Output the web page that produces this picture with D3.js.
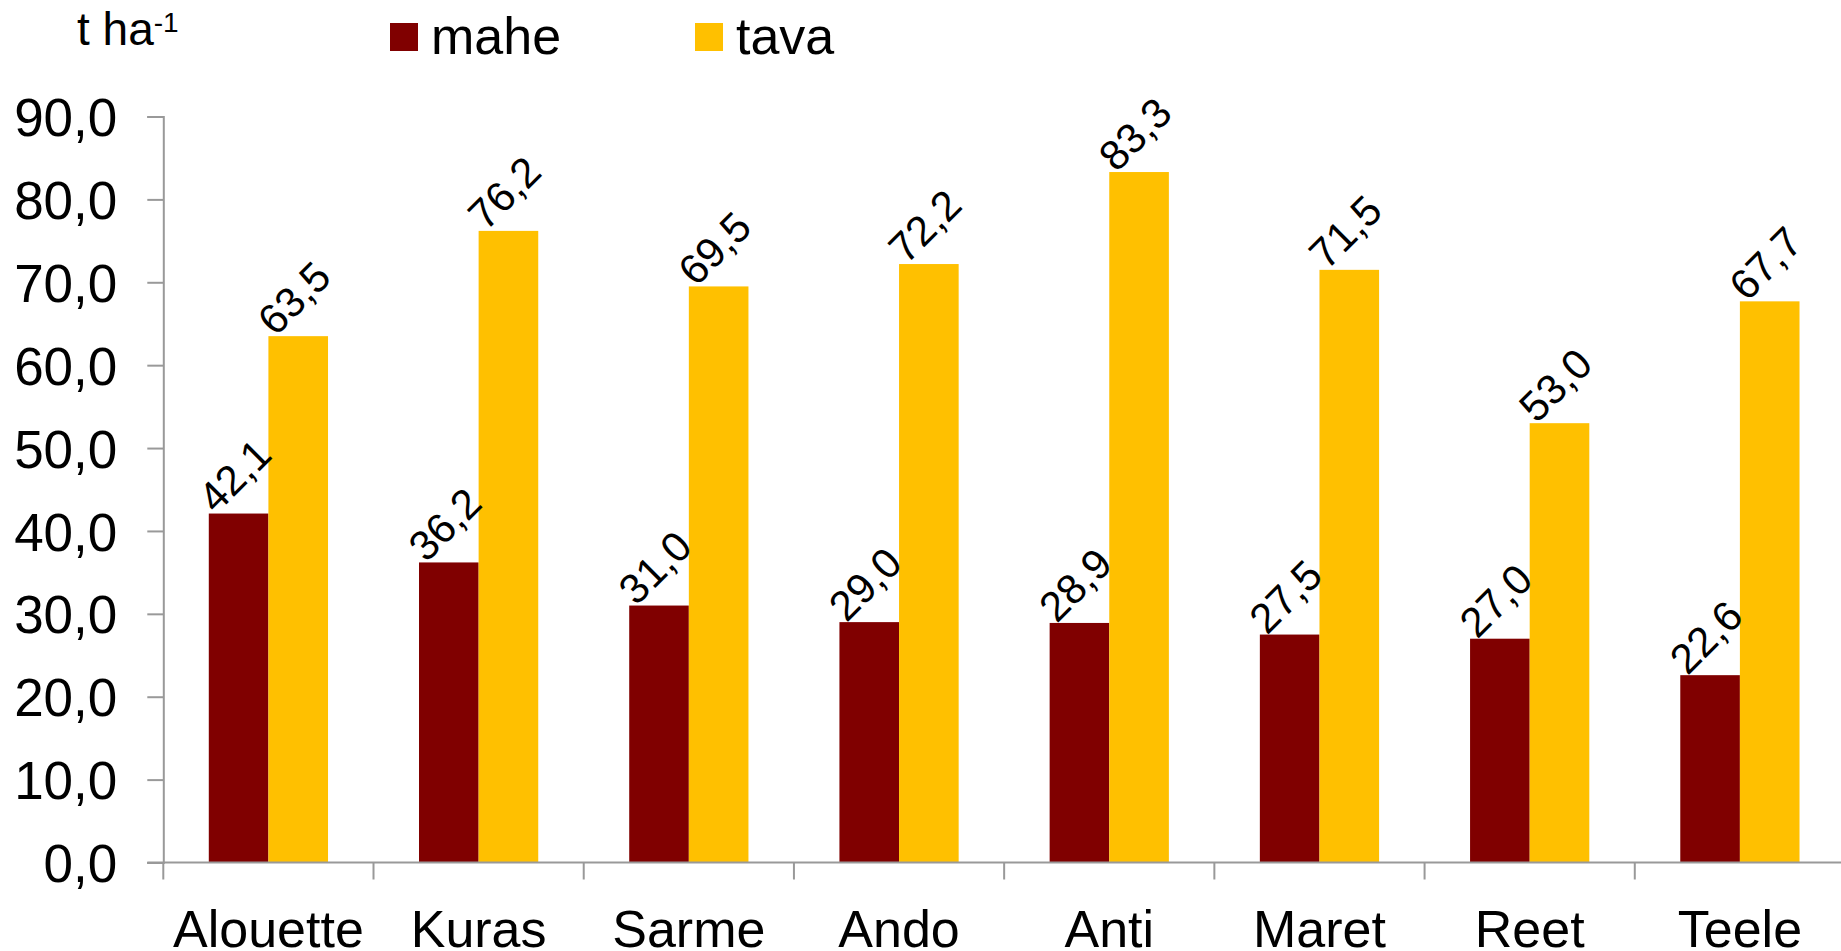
<!DOCTYPE html>
<html>
<head>
<meta charset="utf-8">
<script src="https://cdn.jsdelivr.net/npm/d3@7"></script>
<style>
  body { margin: 0; background: #fff; }
  text { font-family: "Liberation Sans", Arial, sans-serif; fill: #000; }
</style>
</head>
<body>
<script>
var categories = ['Alouette','Kuras','Sarme','Ando','Anti','Maret','Reet','Teele'];
var seriesNames = ['mahe','tava'];
var maheValues = [42.1, 36.2, 31.0, 29.0, 28.9, 27.5, 27.0, 22.6];
var tavaValues = [63.5, 76.2, 69.5, 72.2, 83.3, 71.5, 53.0, 67.7];
var yTicks = [0,10,20,30,40,50,60,70,80,90];
var colors = {mahe: '#800000', tava: '#FFC000'};

var width = 1841;
var height = 951;
// note: "top" is taken by window.top, so plot edges get their own names
var plotLeft = 163.3, plotRight = 1845, plotTop = 116.5, plotBottom = 862.5;

var rows = categories.map(function(c,i){
    return {cat: c, mahe: maheValues[i], tava: tavaValues[i]};
});

var svg = d3.select('body')
            .append('svg')
            .attr('width', width)
            .attr('height', height)

var x0 = d3.scaleBand()
           .domain(categories)
           .range([plotLeft, plotRight])
           .paddingInner(0)
           .paddingOuter(0);

var x1 = d3.scaleBand()
           .domain(seriesNames)
           .range([0, x0.bandwidth()])
           .paddingInner(0)
           .paddingOuter(0.763);

var y = d3.scaleLinear()
          .domain([0, 90])
          .range([plotBottom, plotTop]);

var fmt = function(d){ return d.toFixed(1).replace('.', ','); };

// y axis
var yAxis = svg.append('g')
               .attr('transform','translate('+plotLeft+',0)')
               .call(d3.axisLeft(y).tickValues(yTicks).tickSize(16).tickPadding(30).tickFormat(fmt));
yAxis.select('.domain').attr('stroke','#999').attr('stroke-width',2);
yAxis.selectAll('.tick line').attr('stroke','#999').attr('stroke-width',2);
yAxis.selectAll('text')
     .attr('font-size', 53)
     .attr('font-family','"Liberation Sans", Arial, sans-serif')
     .attr('fill','#000')
     .attr('dy','0.36em');

// bars
var groups = svg.selectAll('g.grp')
                .data(rows)
                .enter()
                .append('g')
                .attr('class','grp')
                .attr('transform', function(d){ return 'translate('+x0(d.cat)+',0)'; });

groups.selectAll('rect')
      .data(function(d){ return seriesNames.map(function(s){ return {key: s, value: d[s]}; }); })
      .enter()
      .append('rect')
      .attr('x', function(d){ return x1(d.key); })
      .attr('y', function(d){ return y(d.value); })
      .attr('width', x1.bandwidth())
      .attr('height', function(d){ return y(0) - y(d.value); })
      .attr('fill', function(d){ return colors[d.key]; });

// value labels, rotated
groups.selectAll('text.val')
      .data(function(d){ return seriesNames.map(function(s){ return {key: s, value: d[s]}; }); })
      .enter()
      .append('text')
      .attr('class','val')
      .attr('font-size', 42)
      .attr('text-anchor','middle')
      .attr('dominant-baseline','central')
      .attr('transform', function(d){
          var cx = x1(d.key) + x1.bandwidth()/2 - 4;
          var cy = y(d.value) - 38;
          return 'translate('+cx+','+cy+') rotate(-45)';
      })
      .text(function(d){ return fmt(d.value); });

// x axis
var xAxis = svg.append('g')
               .attr('transform','translate(0,'+plotBottom+')')
               .call(d3.axisBottom(x0).tickSize(0));
xAxis.select('.domain').remove();
xAxis.selectAll('text')
     .attr('font-size', 52)
     .attr('font-family','"Liberation Sans", Arial, sans-serif')
     .attr('fill','#000')
     .attr('y', 84)
     .attr('dy', 0);

svg.append('line')
   .attr('x1', plotLeft - 16)
   .attr('x2', plotRight)
   .attr('y1', plotBottom)
   .attr('y2', plotBottom)
   .attr('stroke','#999')
   .attr('stroke-width',2);

// ticks between categories
var bounds = categories.map(function(c){ return x0(c); }).concat([plotRight]);
svg.selectAll('line.xtick')
   .data(bounds)
   .enter()
   .append('line')
   .attr('class','xtick')
   .attr('x1', function(d){ return d; })
   .attr('x2', function(d){ return d; })
   .attr('y1', plotBottom)
   .attr('y2', plotBottom + 17)
   .attr('stroke','#999')
   .attr('stroke-width',2);

// unit label
var unit = svg.append('text')
              .attr('x', 77)
              .attr('y', 45)
              .attr('font-size', 46);
unit.append('tspan').text('t ha');
unit.append('tspan').attr('font-size', 28).attr('dy', -13).text('-1');

// legend
var legendX = [390, 695];
var legend = svg.selectAll('g.leg')
                .data(seriesNames)
                .enter()
                .append('g')
                .attr('class','leg')
                .attr('transform', function(d,i){ return 'translate('+legendX[i]+',0)'; });
legend.append('rect')
      .attr('x', 0)
      .attr('y', 23)
      .attr('width', 28)
      .attr('height', 28)
      .attr('fill', function(d){ return colors[d]; });
legend.append('text')
      .attr('x', 41)
      .attr('y', 54)
      .attr('font-size', 52)
      .text(function(d){ return d; });
</script>
</body>
</html>
